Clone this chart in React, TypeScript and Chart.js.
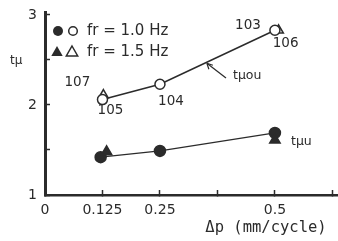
import React, { useEffect, useRef } from "react";
import { Chart, registerables } from "chart.js";

Chart.register(...registerables);

// tμou (open markers)
const openCircleX = [0.125, 0.25, 0.5];
const openCircleY = [2.06, 2.23, 2.83]; // fr = 1.0 Hz
const openTriX = [0.127, 0.508];
const openTriY = [2.11, 2.83]; // fr = 1.5 Hz
// tμu (filled markers)
const fillCircleX = [0.121, 0.25, 0.5];
const fillCircleY = [1.42, 1.49, 1.69]; // fr = 1.0 Hz
const fillTriX = [0.134, 0.5];
const fillTriY = [1.48, 1.61]; // fr = 1.5 Hz

const xTickValues = [0, 0.125, 0.25, 0.375, 0.5, 0.625];
const xTickLabels = ["0", "0.125", "0.25", "", "0.5", ""];
const yTickValues = [1, 1.5, 2, 2.5, 3];
const yTickLabels = ["1", "", "2", "", "3"];
const testNumbers = ["105", "104", "103"]; // open circles
const testNumbersTri = ["107", "106"]; // open triangles
const legendLabels = ["fr = 1.0 Hz", "fr = 1.5 Hz"];

const INK = "#2b2b2b";

const pts = (xs: number[], ys: number[]) => xs.map((x, i) => ({ x, y: ys[i] }));

const annot = {
  id: "annot",
  afterDraw(chart: any) {
    const { ctx, scales } = chart;
    const xs = scales.x, ys = scales.y;
    const px = (v: number) => xs.getPixelForValue(v);
    const py = (v: number) => ys.getPixelForValue(v);
    ctx.save();
    ctx.fillStyle = INK;
    ctx.strokeStyle = INK;
    // legend
    const rows = [31, 52];
    ctx.lineWidth = 1.5;
    ctx.beginPath(); ctx.arc(58, rows[0], 5, 0, Math.PI * 2); ctx.fill();
    ctx.beginPath(); ctx.arc(73, rows[0], 4.3, 0, Math.PI * 2); ctx.stroke();
    const tri = (cx: number, cy: number, r: number, fill: boolean) => {
      ctx.beginPath();
      ctx.moveTo(cx, cy - r);
      ctx.lineTo(cx + r * 0.95, cy + r * 0.65);
      ctx.lineTo(cx - r * 0.95, cy + r * 0.65);
      ctx.closePath();
      if (fill) ctx.fill(); else ctx.stroke();
    };
    tri(57, rows[1], 6, true);
    tri(72, rows[1], 6, false);
    ctx.font = "15px 'DejaVu Sans'";
    ctx.textAlign = "left";
    ctx.textBaseline = "middle";
    legendLabels.forEach((t, i) => ctx.fillText(t, 87, rows[i]));

    // y title
    ctx.font = "12px 'DejaVu Sans'";
    ctx.fillText("tμ", 10, 61);

    // x title
    ctx.font = "15.5px 'DejaVu Sans Mono'";
    ctx.textAlign = "center";
    ctx.fillText("Δp (mm/cycle)", 266, 228);

    // test numbers
    ctx.font = "13.5px 'DejaVu Sans'";
    const offC = [[8, 11], [11, 17], [-27, -5]];
    testNumbers.forEach((t, i) => {
      ctx.fillText(t, px(openCircleX[i]) + offC[i][0], py(openCircleY[i]) + offC[i][1]);
    });
    const offT = [[-26, -13], [7, 13]];
    testNumbersTri.forEach((t, i) => {
      ctx.fillText(t, px(openTriX[i]) + offT[i][0], py(openTriY[i]) + offT[i][1]);
    });

    // curve labels
    ctx.font = "12.5px 'DejaVu Sans'";
    ctx.textAlign = "left";
    ctx.fillText("tμou", 233, 76);
    ctx.fillText("tμu", 291, 142);

    // arrow to tμou line
    const ax = 0.352;
    const ay = openCircleY[1] + ((ax - 0.25) / 0.25) * (openCircleY[2] - openCircleY[1]);
    const tx = px(ax), ty = py(ay) + 1;
    ctx.lineWidth = 1.2;
    ctx.beginPath();
    ctx.moveTo(226, 78);
    ctx.lineTo(tx, ty);
    ctx.stroke();
    ctx.beginPath();
    ctx.moveTo(tx, ty);
    ctx.lineTo(tx + 2, ty + 6);
    ctx.moveTo(tx, ty);
    ctx.lineTo(tx + 6, ty + 2);
    ctx.stroke();
    ctx.restore();
  },
};

export default function App() {
  const ref = useRef<HTMLCanvasElement>(null);
  useEffect(() => {
    document.body.style.margin = "0";
    const base = {
      showLine: false,
      borderColor: INK,
      pointBorderColor: INK,
      pointBorderWidth: 1.5,
    };
    const chart = new Chart(ref.current!, {
      type: "scatter",
      data: {
        datasets: [
          { ...base, data: pts(openCircleX, openCircleY), showLine: true, borderWidth: 1.5,
            pointStyle: "circle", pointRadius: 5, pointBackgroundColor: "#fff" },
          { ...base, data: pts(openTriX, openTriY), pointStyle: "triangle", pointRadius: 5.5,
            pointBackgroundColor: "rgba(255,255,255,0)" },
          { ...base, data: pts(fillTriX, fillTriY), pointStyle: "triangle", pointRadius: 6,
            pointBackgroundColor: INK },
          { ...base, data: pts(fillCircleX, fillCircleY), showLine: true, borderWidth: 1.3,
            pointStyle: "circle", pointRadius: 5.5, pointBackgroundColor: INK },
        ],
      },
      options: {
        animation: false,
        responsive: false,
        layout: { autoPadding: false, padding: { top: 12, right: 1, left: 0, bottom: 0 } },
        plugins: { legend: { display: false }, tooltip: { enabled: false } },
        scales: {
          x: {
            type: "linear",
            min: 0,
            max: 0.635,
            afterBuildTicks: (s: any) => { s.ticks = xTickValues.map((v) => ({ value: v })); },
            afterFit: (s: any) => {
              s.height = 46; s.paddingLeft = 0; s.paddingRight = 0;
              if (s._margins) { s._margins.left = 0; s._margins.right = 0; }
            },
            ticks: {
              autoSkip: false,
              maxRotation: 0,
              padding: 12,
              color: INK,
              font: { family: "DejaVu Sans", size: 14 },
              callback: (v: any) => { const i = xTickValues.indexOf(Number(v)); return i >= 0 ? xTickLabels[i] : ""; },
            },
            grid: { display: true, drawOnChartArea: false, drawTicks: true, tickLength: -5, tickWidth: 1.5, tickColor: INK },
            border: { display: true, color: INK, width: 2.5 },
          },
          y: {
            type: "linear",
            min: 1,
            max: 3.033,
            afterBuildTicks: (s: any) => { s.ticks = yTickValues.map((v) => ({ value: v })); },
            afterFit: (s: any) => {
              s.width = 45; s.paddingTop = 0; s.paddingBottom = 0;
              if (s._margins) { s._margins.top = 0; s._margins.bottom = 0; }
            },
            ticks: {
              autoSkip: false,
              padding: 13,
              color: INK,
              font: { family: "DejaVu Sans", size: 14 },
              callback: (v: any) => { const i = yTickValues.indexOf(Number(v)); return i >= 0 ? yTickLabels[i] : ""; },
            },
            grid: { display: true, drawOnChartArea: false, drawTicks: true, tickLength: -5, tickWidth: 1.5, tickColor: INK },
            border: { display: true, color: INK, width: 3 },
          },
        },
      },
      plugins: [annot],
    });
    return () => chart.destroy();
  }, []);
  return (
    <div style={{ width: 338, height: 241 }}>
      <canvas ref={ref} width={338} height={241} style={{ display: "block", width: 338, height: 241 }} />
    </div>
  );
}
